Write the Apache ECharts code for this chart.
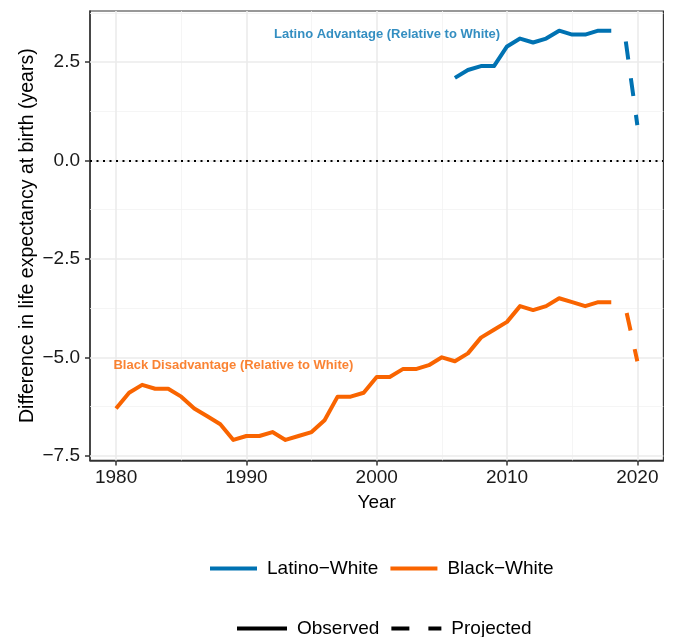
<!DOCTYPE html>
<html><head><meta charset="utf-8">
<script src="https://cdn.jsdelivr.net/npm/echarts@6/dist/echarts.min.js"></script>
<style>html,body{margin:0;padding:0;background:#fff}#c{width:674px;height:637px}</style>
</head><body><div id="c"></div>
<script>
// ---- data ----
const blackYears = [1980,1981,1982,1983,1984,1985,1986,1987,1988,1989,1990,1991,1992,1993,1994,1995,1996,1997,1998,1999,2000,2001,2002,2003,2004,2005,2006,2007,2008,2009,2010,2011,2012,2013,2014,2015,2016,2017,2018];
const blackObserved = [-6.3,-5.9,-5.7,-5.8,-5.8,-6.0,-6.3,-6.5,-6.7,-7.1,-7.0,-7.0,-6.9,-7.1,-7.0,-6.9,-6.6,-6.0,-6.0,-5.9,-5.5,-5.5,-5.3,-5.3,-5.2,-5.0,-5.1,-4.9,-4.5,-4.3,-4.1,-3.7,-3.8,-3.7,-3.5,-3.6,-3.7,-3.6,-3.6];
const latinoYears = [2006,2007,2008,2009,2010,2011,2012,2013,2014,2015,2016,2017,2018];
const latinoObserved = [2.1,2.3,2.4,2.4,2.9,3.1,3.0,3.1,3.3,3.2,3.2,3.3,3.3];
const projYears = [2019,2020];
const latinoProjected = [3.3,0.9];
const blackProjected = [-3.6,-5.1];
const xTicks = [1980,1990,2000,2010,2020];
const xMinor = [1985,1995,2005,2015];
const yTicks = [-7.5,-5,-2.5,0,2.5];
const yMinor = [-6.25,-3.75,-1.25,1.25,3.75];
const annotations = [
  {x:2000.8, y:3.2, text:'Latino Advantage (Relative to White)', group:'latino'},
  {x:1989, y:-5.2, text:'Black Disadvantage (Relative to White)', group:'black'}
];
const legendColor = ['Latino−White','Black−White'];
const legendType = ['Observed','Projected'];

// ---- styles ----
const BLUE = '#0072B2', ORANGE = '#F96400';
const FONT = '"Liberation Sans", Arial, Helvetica, sans-serif';
const zip = (xs, ys) => xs.map((x,i)=>[x, ys[i]]);
const dash = [18,19];
const majorGrid = {color:'#EBEBEB', width:1.6, type:'solid'};
const minorGrid = {color:'#F2F2F2', width:0.8, type:'solid'};
const gridLines = [
  ...xMinor.map(v=>({xAxis:v, lineStyle:minorGrid})),
  ...yMinor.map(v=>({yAxis:v, lineStyle:minorGrid})),
  ...xTicks.map(v=>({xAxis:v, lineStyle:majorGrid})),
  ...yTicks.map(v=>({yAxis:v, lineStyle:majorGrid}))
];
const fmtY = v => v.toFixed(1).replace('-', '\u2212');
const fmtX = v => String(v);

function lineSeries(name, data, color, dashed, z) {
  return {
    name, type:'line', data, symbol:'none', showSymbol:false, z: z||10, silent:true,
    itemStyle:{color},
    lineStyle:{color, width:4, cap:'butt', join:'round',
      type: dashed ? dash : 'solid', dashOffset: dashed ? 26 : 0}
  };
}
const legendBase = {orient:'horizontal', itemHeight:20, itemGap:10, selectedMode:false, padding:0,
  itemStyle:{opacity:0, borderWidth:0},
  lineStyle:{width:4, cap:'butt'},
  textStyle:{fontSize:19, color:'#000', fontFamily:FONT, padding:[0,0,0,5]}};

const chart = echarts.init(document.getElementById('c'), null, {renderer:'canvas'});
chart.setOption({
  animation:false,
  backgroundColor:'#fff',
  grid:{left:90, right:10.6, top:11, bottom:176.6, show:true, borderColor:'#333', borderWidth:1.2, backgroundColor:'transparent', outerBoundsMode:'none'},
  xAxis:{type:'value', min:1978, max:2022,
    axisLine:{show:true, onZero:false, lineStyle:{color:'#333', width:1.5}},
    axisTick:{show:true, length:5, customValues:xTicks, lineStyle:{color:'#333', width:1.5}},
    axisLabel:{customValues:xTicks, fontSize:19, color:'#1a1a1a', margin:8, fontFamily:FONT, formatter:fmtX},
    splitLine:{show:false},
    name:'Year', nameLocation:'middle', nameGap:33, nameMoveOverlap:false, nameTextStyle:{fontSize:19, color:'#000', fontFamily:FONT}},
  yAxis:{type:'value', min:-7.62, max:3.8,
    axisLine:{show:true, onZero:false, lineStyle:{color:'#333', width:1.5}},
    axisTick:{show:true, length:5, customValues:yTicks, lineStyle:{color:'#333', width:1.5}},
    axisLabel:{customValues:yTicks, fontSize:19, color:'#1a1a1a', margin:10, fontFamily:FONT, formatter:fmtY},
    splitLine:{show:false},
    name:'Difference in life expectancy at birth (years)', nameLocation:'middle', nameGap:52, nameMoveOverlap:false,
    nameTextStyle:{fontSize:19.5, color:'#000', fontFamily:FONT}},
  legend:[
    {...legendBase, data:legendColor, left:208, top:559, itemWidth:47},
    {...legendBase, data:legendType, left:235, top:619, itemWidth:50}
  ],
  series:[
    {type:'line', data:[], z:1, silent:true, symbol:'none',
     markLine:{silent:true, symbol:['none','none'], z:1, animation:false, label:{show:false}, data:gridLines}},
    lineSeries('Latino−White', zip(latinoYears, latinoObserved), BLUE, false),
    lineSeries('Black−White', zip(blackYears, blackObserved), ORANGE, false),
    lineSeries('Latino−White', zip(projYears, latinoProjected), BLUE, true),
    lineSeries('Black−White', zip(projYears, blackProjected), ORANGE, true),
    lineSeries('Observed', [], '#000', false),
    {...lineSeries('Projected', [], '#000', true), lineStyle:{color:'#000', width:4, cap:'butt', type:dash, dashOffset:0}},
    {type:'line', data:[], z:12, silent:true, symbol:'none',
     markLine:{silent:true, symbol:['none','none'], z:12, animation:false, label:{show:false},
       data:[{yAxis:0, lineStyle:{color:'#000', width:2, type:[2,4.5], cap:'butt'}}]}},
    {type:'scatter', z:15, silent:true, symbolSize:0,
     data: annotations.map(a=>({value:[a.x,a.y], label:{show:true, position:'inside', formatter:a.text,
        color: a.group==='latino' ? BLUE : ORANGE, fontWeight:'bold', fontSize:13, fontFamily:FONT}}))}
  ]
});
</script></body></html>
